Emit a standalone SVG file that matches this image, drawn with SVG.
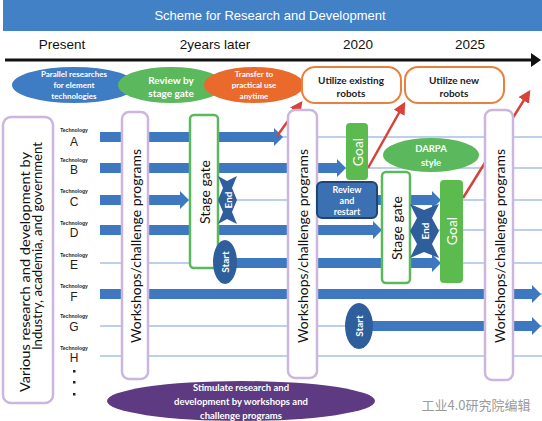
<svg xmlns="http://www.w3.org/2000/svg" width="542" height="421" viewBox="0 0 542 421">
<defs>
<style>
.hdr{font-family:"Liberation Sans",Arial,sans-serif;}
.cal{font-family:Lato,"Open Sans",sans-serif;}
.wt{fill:#fff;}
.lane{stroke:#7aa2d8;stroke-width:1.2;}
.bar{fill:#3d78c1;}
.ws{fill:#fff;stroke:#cbb6de;stroke-width:2.5;}
.sg{fill:#fff;stroke:#5cb85c;stroke-width:2.5;}
.goal{fill:#5bbb4e;}
.dk{fill:#2e5e9c;}
.red{stroke:#d8423b;stroke-width:2.5;fill:none;marker-end:url(#rh);}
.tech{font-family:"Liberation Sans",Arial,sans-serif;font-size:5px;font-weight:bold;text-anchor:middle;fill:#222;}
.let{font-family:"Liberation Sans",Arial,sans-serif;font-size:12px;text-anchor:middle;fill:#222;}
.rot{text-anchor:middle;dominant-baseline:central;}
</style>
<marker id="rh" viewBox="0 0 10 10" refX="8" refY="5" markerWidth="5" markerHeight="5" orient="auto" markerUnits="strokeWidth">
<path d="M0,0 L10,5 L0,10 z" fill="#d8423b"/>
</marker>
</defs>
<rect width="542" height="421" fill="#fff"/>
<g id="header">
<rect x="3" y="0" width="539" height="31" fill="#4381c6"/>
<text class="hdr wt" x="270" y="20" font-size="13" text-anchor="middle">Scheme for Research and Development</text>
<g class="hdr" font-size="13.5" text-anchor="middle" fill="#111">
<text x="62" y="49">Present</text>
<text x="215" y="49">2years later</text>
<text x="358" y="49">2020</text>
<text x="470" y="49">2025</text>
</g>
<line x1="5" y1="60" x2="533" y2="60" stroke="#111" stroke-width="3"/>
<path d="M531,53 L541,60 L531,67 Z" fill="#111"/>
</g>
<g id="legend">
<g id="e-parallel"><ellipse cx="74" cy="85" rx="62" ry="18" fill="#3e7cc3"/>
<text class="cal wt" font-size="8" font-weight="bold" text-anchor="middle"><tspan x="74" y="77">Parallel researches</tspan><tspan x="74" y="88">for element</tspan><tspan x="74" y="99">technologies</tspan></text></g>
<g id="e-review"><ellipse cx="171" cy="85" rx="53" ry="18" fill="#5cb85c"/>
<text class="cal wt" font-size="10" font-weight="bold" text-anchor="middle"><tspan x="171" y="84">Review by</tspan><tspan x="171" y="97">stage gate</tspan></text></g>
<g id="e-transfer"><ellipse cx="254" cy="85" rx="50" ry="18" fill="#ea6a2c"/>
<text class="cal wt" font-size="8" font-weight="bold" text-anchor="middle"><tspan x="254" y="77">Transfer to</tspan><tspan x="254" y="88">practical use</tspan><tspan x="254" y="99">anytime</tspan></text></g>
<g id="b-existing"><rect x="302" y="67" width="99" height="36" rx="13" fill="#fff" stroke="#e8803e" stroke-width="2"/>
<text class="cal" font-size="10" font-weight="bold" fill="#222" text-anchor="middle"><tspan x="351" y="84">Utilize existing</tspan><tspan x="351" y="97">robots</tspan></text></g>
<g id="b-new"><rect x="405" y="67" width="99" height="36" rx="13" fill="#fff" stroke="#e8803e" stroke-width="2"/>
<text class="cal" font-size="10" font-weight="bold" fill="#222" text-anchor="middle"><tspan x="454" y="84">Utilize new</tspan><tspan x="454" y="97">robots</tspan></text></g>
</g>
<g id="lanes">
<line class="lane" x1="100" y1="137" x2="542" y2="137"/>
<line class="lane" x1="100" y1="168" x2="542" y2="168"/>
<line class="lane" x1="100" y1="200" x2="542" y2="200"/>
<line class="lane" x1="100" y1="230" x2="542" y2="230"/>
<line class="lane" x1="100" y1="263" x2="542" y2="263"/>
<line class="lane" x1="100" y1="294" x2="542" y2="294"/>
<line class="lane" x1="100" y1="326" x2="542" y2="326"/>
<line class="lane" x1="100" y1="356" x2="542" y2="356"/>
</g>
<g id="connectors">
<polygon class="bar" points="100,132 274,132 274,128 283,137 274,146 274,142 100,142"/>
<polygon class="bar" points="100,163 337,163 337,159 346,168 337,177 337,173 100,173"/>
<polygon class="bar" points="100,195 180,195 180,191 189,200 180,209 180,205 100,205"/>
<polygon class="bar" points="377,195 432,195 432,191 441,200 432,209 432,205 377,205"/>
<polygon class="bar" points="100,225 373,225 373,221 382,230 373,239 373,235 100,235"/>
<polygon class="bar" points="230,258 432,258 432,254 441,263 432,272 432,268 230,268"/>
<polygon class="bar" points="100,289 532,289 532,285 541,294 532,303 532,299 100,299"/>
<polygon class="bar" points="360,321 532,321 532,317 541,326 532,335 532,331 360,331"/>
<line class="red" x1="277" y1="136" x2="301" y2="103"/>
<line class="red" x1="368" y1="168" x2="404" y2="104"/>
<line class="red" x1="463" y1="198" x2="529" y2="92"/>
</g>
<g id="n-left"><rect x="3" y="117" width="50" height="286" rx="8" class="ws"/>
<text class="cal rot" font-size="13.5" fill="#111" textLength="240" lengthAdjust="spacingAndGlyphs" transform="translate(25,272) rotate(-90)">Various research and development by</text>
<text class="cal rot" font-size="13.5" fill="#111" textLength="208" lengthAdjust="spacingAndGlyphs" transform="translate(37,246) rotate(-90)">Industry, academia, and government</text></g>
<g id="n-tech">
<text class="tech" x="74" y="132">Technology</text><text class="let" x="74" y="146">A</text>
<text class="tech" x="74" y="162">Technology</text><text class="let" x="74" y="174">B</text>
<text class="tech" x="74" y="193">Technology</text><text class="let" x="74" y="206">C</text>
<text class="tech" x="74" y="225">Technology</text><text class="let" x="74" y="237">D</text>
<text class="tech" x="74" y="257">Technology</text><text class="let" x="74" y="269">E</text>
<text class="tech" x="74" y="288">Technology</text><text class="let" x="74" y="301">F</text>
<text class="tech" x="74" y="318">Technology</text><text class="let" x="74" y="331">G</text>
<text class="tech" x="74" y="350">Technology</text><text class="let" x="74" y="362">H</text>
<rect x="73" y="370" width="2.5" height="2.5" fill="#222"/>
<rect x="73" y="381" width="2.5" height="2.5" fill="#222"/>
<rect x="73" y="393" width="2.5" height="2.5" fill="#222"/>
</g>
<g id="n-ws1"><rect x="122" y="112" width="26" height="267" rx="7" class="ws"/>
<text class="cal rot" font-size="14" fill="#111" textLength="194" lengthAdjust="spacingAndGlyphs" transform="translate(135,246) rotate(-90)">Workshops/challenge programs</text></g>
<g id="n-ws2"><rect x="288" y="110" width="29" height="268" rx="7" class="ws"/>
<text class="cal rot" font-size="14" fill="#111" textLength="194" lengthAdjust="spacingAndGlyphs" transform="translate(302,246) rotate(-90)">Workshops/challenge programs</text></g>
<g id="n-ws3"><rect x="485" y="110" width="28" height="270" rx="7" class="ws"/>
<text class="cal rot" font-size="14" fill="#111" textLength="194" lengthAdjust="spacingAndGlyphs" transform="translate(499,246) rotate(-90)">Workshops/challenge programs</text></g>
<g id="n-sg1"><rect x="190" y="115" width="28" height="153" rx="4" class="sg"/>
<text class="cal rot" font-size="14" fill="#111" transform="translate(204,192) rotate(-90)">Stage gate</text></g>
<g id="n-sg2"><rect x="382" y="172" width="28" height="111" rx="4" class="sg"/>
<text class="cal rot" font-size="14" fill="#111" transform="translate(396,228) rotate(-90)">Stage gate</text></g>
<g id="n-goal1"><rect x="346" y="123" width="22" height="57" rx="4" class="goal"/>
<text class="cal rot wt" font-size="14" transform="translate(357,152) rotate(-90)">Goal</text></g>
<g id="n-goal2"><rect x="440" y="180" width="23" height="103" rx="4" class="goal"/>
<text class="cal rot wt" font-size="14" transform="translate(451,231) rotate(-90)">Goal</text></g>
<g id="n-end1"><polygon class="dk" points="218,176 227,181 237,176 232,188 237,200 232,212 237,224 227,219 218,224 223,212 218,200 223,188"/>
<text class="cal rot wt" font-size="10" font-weight="bold" transform="translate(228,200) rotate(-90)">End</text></g>
<g id="n-end2"><polygon class="dk" points="410,204 424,210 439,204 432,218 439,231 432,244 439,258 424,252 410,258 417,244 410,231 417,218"/>
<text class="cal rot wt" font-size="10" font-weight="bold" transform="translate(425,231) rotate(-90)">End</text></g>
<g id="n-start1"><ellipse cx="225" cy="262" rx="12" ry="22" class="dk"/>
<text class="cal rot wt" font-size="10" font-weight="bold" transform="translate(225,262) rotate(-90)">Start</text></g>
<g id="n-start2"><ellipse cx="359" cy="326" rx="14" ry="23" class="dk"/>
<text class="cal rot wt" font-size="10" font-weight="bold" transform="translate(359,326) rotate(-90)">Start</text></g>
<g id="n-review"><rect x="317" y="182" width="60" height="36" rx="5" fill="#3b70b3" stroke="#1f4577" stroke-width="2"/>
<text class="cal wt" font-size="9" font-weight="bold" text-anchor="middle"><tspan x="347" y="193">Review</tspan><tspan x="347" y="204">and</tspan><tspan x="347" y="215">restart</tspan></text></g>
<g id="n-darpa"><ellipse cx="431" cy="155" rx="48" ry="17" fill="#5cb85c"/>
<text class="cal wt" font-size="9.5" font-weight="bold" text-anchor="middle"><tspan x="431" y="152">DARPA</tspan><tspan x="431" y="166">style</tspan></text></g>
<g id="n-stimulate"><ellipse cx="241" cy="401" rx="134" ry="20" fill="#5e3a82"/>
<text class="cal wt" font-size="9.5" font-weight="bold" text-anchor="middle"><tspan x="241" y="391">Stimulate research and</tspan><tspan x="241" y="405">development by workshops and</tspan><tspan x="241" y="419">challenge programs</tspan></text></g>
<text x="476" y="410" font-family="'Noto Sans CJK SC',sans-serif" font-size="13" fill="#9a9a9a" text-anchor="middle">工业4.0研究院编辑</text>
</svg>
